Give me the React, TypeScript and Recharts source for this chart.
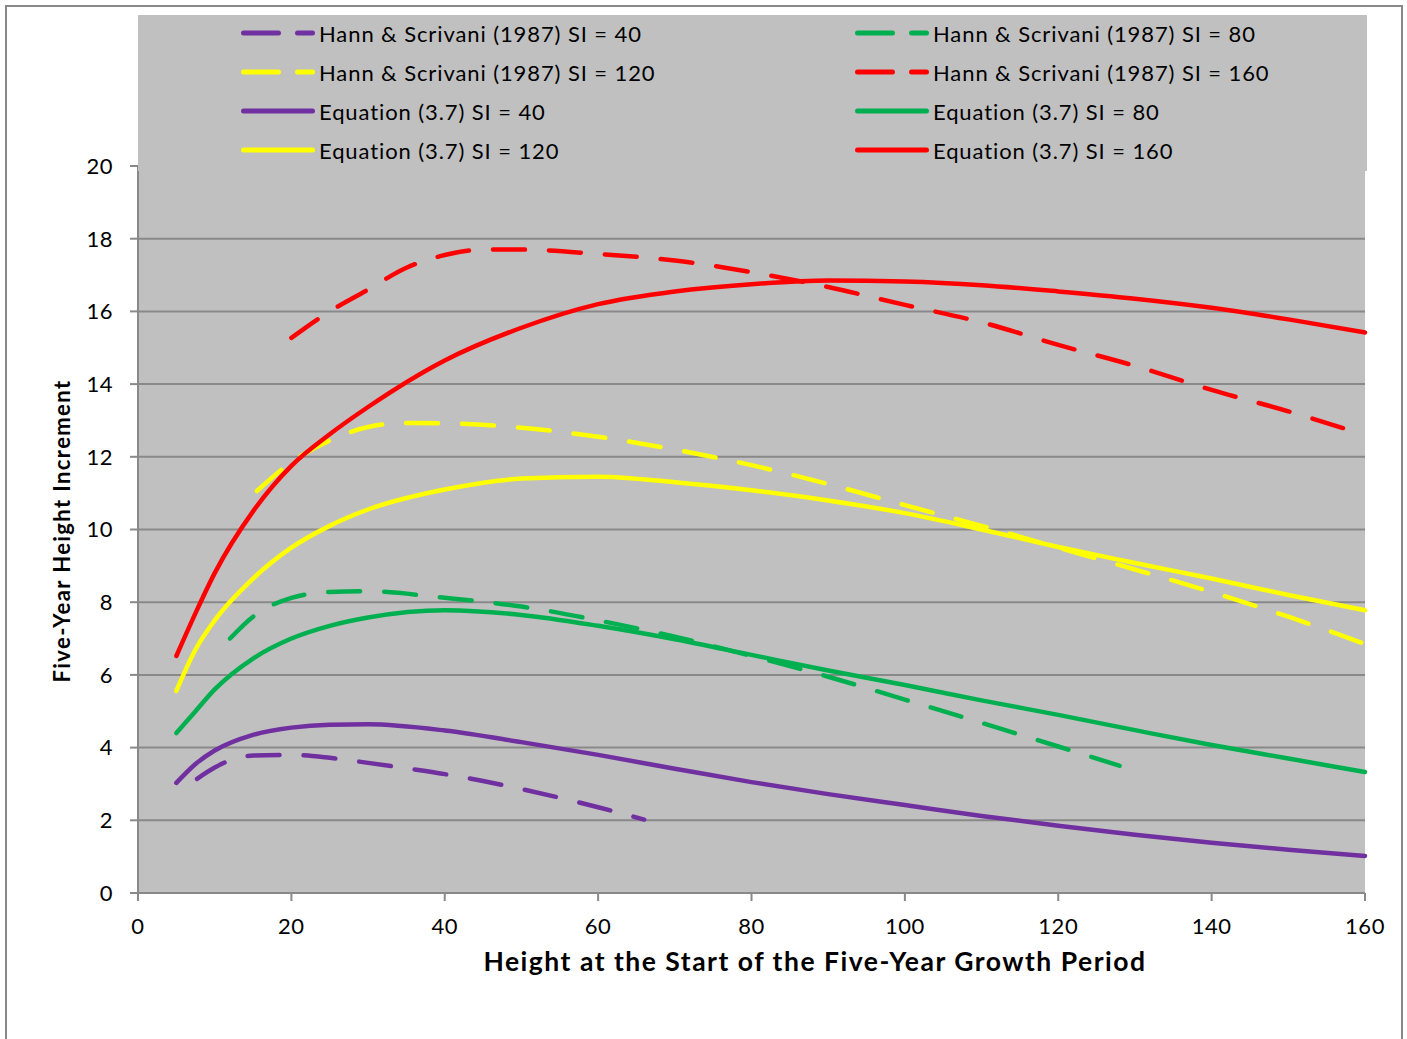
import { LineChart, Line, XAxis, YAxis, CartesianGrid, Legend, Label } from 'recharts'

const FONT = 'Lato, "Noto Sans", sans-serif'
const PURPLE = '#7030A0'
const GREEN = '#00B050'
const YELLOW = '#FFFF00'
const RED = '#FF0000'

// Equation (3.7) curves share the same heights
const eqHeights = [5, 7.5, 10, 15, 20, 25, 30, 40, 50, 60, 70, 80, 90, 100, 110, 120, 130, 140, 150, 160]
const eqSI40 = [3.03, 3.55, 3.92, 4.35, 4.55, 4.63, 4.64, 4.47, 4.15, 3.8, 3.42, 3.05, 2.72, 2.42, 2.12, 1.85, 1.6, 1.38, 1.19, 1.02]
const eqSI80 = [4.4, 5.0, 5.6, 6.45, 7.0, 7.35, 7.58, 7.78, 7.65, 7.35, 6.98, 6.55, 6.12, 5.72, 5.3, 4.9, 4.48, 4.07, 3.7, 3.33]
const eqSI120 = [5.56, 6.7, 7.5, 8.65, 9.5, 10.1, 10.55, 11.1, 11.4, 11.45, 11.3, 11.08, 10.8, 10.45, 10.0, 9.52, 9.08, 8.65, 8.2, 7.78]
const eqSI160 = [6.52, 7.7, 8.8, 10.5, 11.75, 12.62, 13.37, 14.65, 15.55, 16.2, 16.55, 16.75, 16.85, 16.82, 16.72, 16.55, 16.35, 16.1, 15.78, 15.42]

// Hann & Scrivani (1987) curves
const hannSI40Heights = [7.7, 10, 12, 15, 20, 25, 30, 35, 40, 45, 50, 55, 60, 66]
const hannSI40 = [3.14, 3.45, 3.65, 3.78, 3.8, 3.72, 3.58, 3.43, 3.27, 3.08, 2.86, 2.62, 2.36, 2.02]
const hannSI80Heights = [12, 15, 20, 25, 30, 40, 50, 60, 70, 80, 90, 100, 110, 120, 128]
const hannSI80 = [7.0, 7.6, 8.12, 8.28, 8.3, 8.12, 7.88, 7.5, 7.05, 6.52, 5.95, 5.32, 4.68, 4.03, 3.5]
const hannSI120Heights = [15.5, 20, 25, 30, 35, 40, 50, 60, 70, 80, 90, 100, 110, 120, 130, 140, 150, 160]
const hannSI120 = [11.06, 11.85, 12.45, 12.82, 12.93, 12.92, 12.8, 12.55, 12.2, 11.77, 11.25, 10.67, 10.1, 9.5, 8.9, 8.28, 7.6, 6.85]
const hannSI160Heights = [20, 25, 30, 35, 40, 45, 50, 60, 70, 80, 90, 100, 110, 120, 130, 140, 150, 160]
const hannSI160 = [15.27, 16.0, 16.6, 17.2, 17.55, 17.7, 17.7, 17.58, 17.4, 17.08, 16.67, 16.18, 15.7, 15.08, 14.5, 13.84, 13.25, 12.6]

const xTicks = [0, 20, 40, 60, 80, 100, 120, 140, 160]
const yTicks = [0, 2, 4, 6, 8, 10, 12, 14, 16, 18, 20]

const toPoints = (xs: number[], ys: number[]) => xs.map((h, i) => ({ h, v: ys[i] }))

const series = [
  { name: 'Hann & Scrivani (1987) SI = 40', color: PURPLE, dashed: true, data: toPoints(hannSI40Heights, hannSI40) },
  { name: 'Hann & Scrivani (1987) SI = 80', color: GREEN, dashed: true, data: toPoints(hannSI80Heights, hannSI80) },
  { name: 'Hann & Scrivani (1987) SI = 120', color: YELLOW, dashed: true, data: toPoints(hannSI120Heights, hannSI120) },
  { name: 'Hann & Scrivani (1987) SI = 160', color: RED, dashed: true, data: toPoints(hannSI160Heights, hannSI160) },
  { name: 'Equation (3.7) SI = 40', color: PURPLE, dashed: false, data: toPoints(eqHeights, eqSI40) },
  { name: 'Equation (3.7) SI = 80', color: GREEN, dashed: false, data: toPoints(eqHeights, eqSI80) },
  { name: 'Equation (3.7) SI = 120', color: YELLOW, dashed: false, data: toPoints(eqHeights, eqSI120) },
  { name: 'Equation (3.7) SI = 160', color: RED, dashed: false, data: toPoints(eqHeights, eqSI160) },
]

function ChartLegend() {
  return (
    <div style={{ position: 'relative', width: 1229, height: 156, background: '#C0C0C0' }}>
      {series.map((s, i) => {
        const col = i % 2
        const row = Math.floor(i / 2)
        return (
          <div
            key={s.name}
            style={{
              position: 'absolute',
              left: col === 0 ? 103 : 717,
              top: 18 + row * 39 - 15,
              height: 30,
              display: 'flex',
              alignItems: 'center',
              whiteSpace: 'nowrap',
            }}
          >
            <svg width={74} height={10}>
              <line
                x1={2.5}
                y1={5}
                x2={71.5}
                y2={5}
                stroke={s.color}
                strokeWidth={5}
                strokeLinecap="round"
                strokeDasharray={s.dashed ? '35 19' : undefined}
              />
            </svg>
            <span style={{ marginLeft: 4, fontSize: 22, letterSpacing: 0.9, fontFamily: FONT, color: '#000' }}>{s.name}</span>
          </div>
        )
      })}
    </div>
  )
}

export default function App() {
  return (
    <div style={{ position: 'absolute', left: 0, top: 0, width: 1407, height: 1039, background: '#fff', overflow: 'hidden' }}>
      <div
        style={{
          position: 'absolute',
          left: 5,
          top: 5,
          width: 1398,
          height: 1100,
          border: '2px solid #898989',
          boxSizing: 'border-box',
        }}
      />
      <LineChart
        width={1407}
        height={1039}
        margin={{ top: 166, right: 42, left: 78, bottom: 86 }}
        style={{ fontFamily: FONT }}
      >
        <CartesianGrid horizontal vertical={false} fill="#C0C0C0" stroke="#898989" strokeWidth={2} />
        <XAxis
          type="number"
          dataKey="h"
          domain={[0, 160]}
          ticks={xTicks}
          height={60}
          stroke="#898989"
          strokeWidth={2}
          tickSize={8}
          tickMargin={17}
          tick={{ fill: '#000', fontSize: 22, letterSpacing: 0.5 }}
          interval={0}
          allowDuplicatedCategory={false}
        >
          <Label
            content={() => (
              <text
                x={815}
                y={971}
                textAnchor="middle"
                fontSize={26.5}
                fontWeight="bold"
                letterSpacing={1.5}
                fill="#000"
                fontFamily={FONT}
              >
                Height at the Start of the Five-Year Growth Period
              </text>
            )}
          />
        </XAxis>
        <YAxis
          type="number"
          domain={[0, 20]}
          ticks={yTicks}
          width={60}
          stroke="#898989"
          strokeWidth={2}
          tickSize={8}
          tickMargin={17}
          tick={{ fill: '#000', fontSize: 22, letterSpacing: 0.5 }}
          interval={0}
        >
          <Label
            content={() => (
              <text
                x={61}
                y={531}
                textAnchor="middle"
                dominantBaseline="central"
                fontSize={22}
                fontWeight="bold"
                letterSpacing={1.4}
                fill="#000"
                fontFamily={FONT}
                transform="rotate(-90 61 531)"
              >
                Five-Year Height Increment
              </text>
            )}
          />
        </YAxis>
        <Legend
          layout="horizontal"
          verticalAlign="middle"
          align="center"
          content={() => <ChartLegend />}
          wrapperStyle={{ position: 'absolute', left: 138, top: 15, width: 1229, height: 156 }}
        />
        {series.map((s) => (
          <Line
            key={s.name}
            name={s.name}
            data={s.data}
            dataKey="v"
            type="monotone"
            stroke={s.color}
            strokeWidth={4.5}
            strokeLinecap="round"
            strokeDasharray={s.dashed ? '32 24' : undefined}
            dot={false}
            activeDot={false}
            isAnimationActive={false}
          />
        ))}
      </LineChart>
    </div>
  )
}
